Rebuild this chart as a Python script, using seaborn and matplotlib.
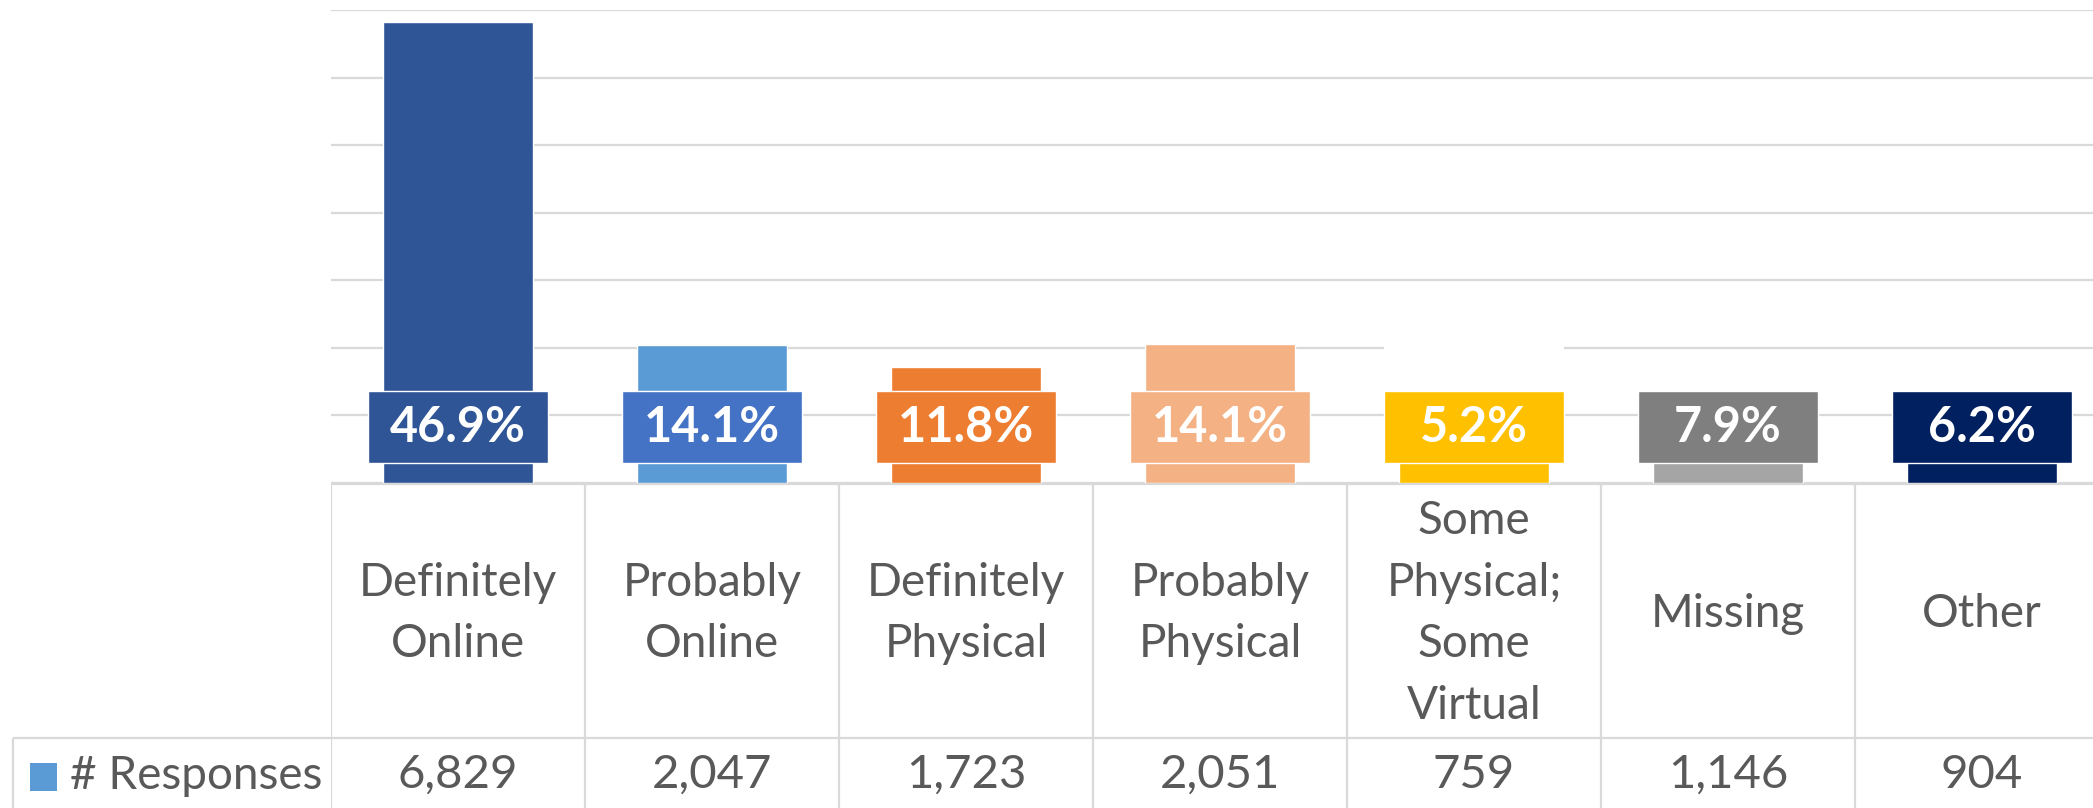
import pandas as pd
import seaborn as sns
import matplotlib.pyplot as plt
from matplotlib.patches import Rectangle

categories = ["Definitely\nOnline", "Probably\nOnline", "Definitely\nPhysical", "Probably\nPhysical",
              "Some\nPhysical;\nSome\nVirtual", "Missing", "Other"]
responses = [6829, 2047, 1723, 2051, 759, 1146, 904]
pct_labels = ["46.9%", "14.1%", "11.8%", "14.1%", "5.2%", "7.9%", "6.2%"]
bar_colors = ["#2F5597", "#5B9BD5", "#ED7D31", "#F4B183", "#FFC000", "#A5A5A5", "#002060"]
box_colors = ["#2F5597", "#4472C4", "#ED7D31", "#F4B183", "#FFC000", "#7F7F7F", "#002060"]
series_name = "# Responses"
legend_color = "#5B9BD5"

sns.set_style("white")
plt.rcParams['font.family'] = ['Lato', 'DejaVu Sans']

W, H = 2093, 808
fig = plt.figure(figsize=(W / 100, H / 100), dpi=100)
left, base, top, colw = 331, 483, 10, 254
ax = fig.add_axes([left / W, (H - base) / H, 7 * colw / W, (base - top) / H])

df = pd.DataFrame({"cat": categories, "n": responses})
sns.barplot(data=df, x="cat", y="n", hue="cat", palette=bar_colors, width=0.59,
            saturation=1, legend=False, ax=ax, zorder=2)
ax.set_xlim(-0.5, 6.5)
ax.set_ylim(0, 7000)
ax.set_yticks(range(0, 7001, 1000))
ax.yaxis.grid(True, color="#D9D9D9", lw=1.6)
ax.set_axisbelow(True)
ax.tick_params(left=False, bottom=False, labelleft=False, labelbottom=False)
ax.set_xlabel("")
ax.set_ylabel("")
sns.despine(ax=ax, left=True, bottom=True)

# gap in the gridline above the yellow label
ax.hlines(2000, 4 - 0.355, 4 + 0.355, color="white", lw=3, zorder=1)

# label boxes
box_lo, box_hi = 296, 1361
xs = list(range(len(categories)))
ax.bar(xs, [box_hi - box_lo] * len(xs), bottom=box_lo, width=0.705, color=box_colors, zorder=3)
for i, lab in enumerate(pct_labels):
    ax.text(i, (box_lo + box_hi) / 2, lab, ha="center", va="center", color="white",
            fontsize=35, fontweight="bold", zorder=4)

# data table
tab = fig.add_axes([left / W, 0, 7 * colw / W, (H - base) / H])
tab.set_xlim(-0.5, 6.5)
tab.set_ylim(H, base)
tab.axis("off")
gc = "#D9D9D9"
hdr_x = -0.5 - (left - 13) / colw
row2 = 738
tab.hlines(base + 1, -0.5, 6.5, color=gc, lw=1.6)
tab.hlines(row2, hdr_x, 6.5, color=gc, lw=1.6, clip_on=False)
tab.vlines([x - 0.5 for x in range(8)], base, H, color=gc, lw=1.6)
tab.vlines(hdr_x, row2, H, color=gc, lw=1.6, clip_on=False)

txt = "#595959"
for i, (c, v) in enumerate(zip(categories, responses)):
    tab.text(i, (base + row2) / 2 + 3, c, ha="center", va="center", color=txt,
             fontsize=33, linespacing=1.58)
    tab.text(i, 775, f"{v:,}", ha="center", va="center", color=txt, fontsize=34)

tab.add_patch(Rectangle((-0.5 - (left - 30) / colw, 763), 27 / colw, 28,
                        facecolor=legend_color, edgecolor="none", clip_on=False))
tab.text(-0.5 - (left - 70) / colw, 776, series_name, ha="left", va="center",
         color=txt, fontsize=33, clip_on=False)

fig.savefig("out.png", dpi=100)
